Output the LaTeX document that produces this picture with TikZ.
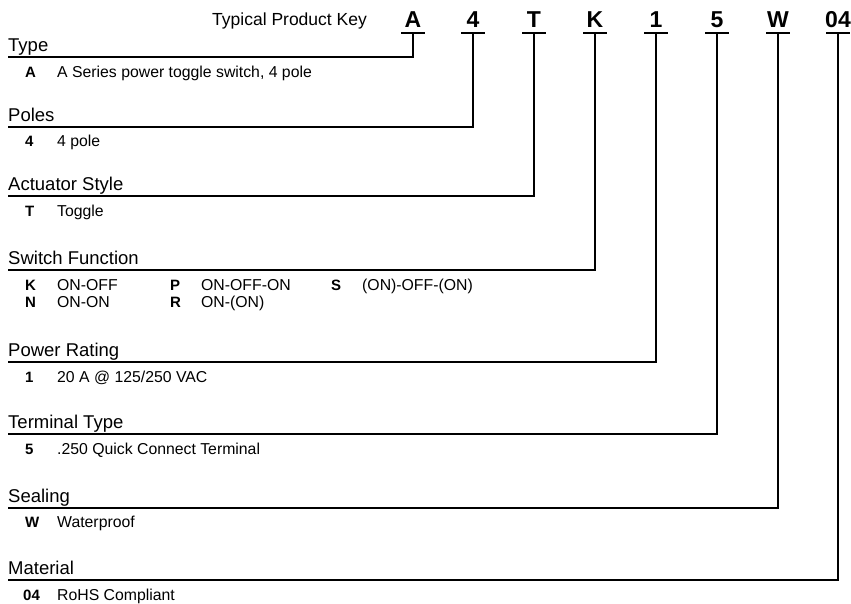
\documentclass[tikz,border=0pt]{standalone}
\usepackage{fontspec}
\setmainfont{Liberation Sans}
\begin{document}
\begin{tikzpicture}[x=1pt,y=-1pt,
  keyl/.style={font=\fontsize{23}{25}\selectfont\bfseries, anchor=base, inner sep=0pt},
  ttl/.style={font=\fontsize{18.5}{20}\selectfont, anchor=base west, inner sep=0pt},
  code/.style={font=\fontsize{15}{17}\selectfont\bfseries, anchor=base west, inner sep=0pt},
  desc/.style={font=\fontsize{15.8}{17}\selectfont, anchor=base west, inner sep=0pt},
  ln/.style={line width=1.2pt}]
\useasboundingbox (0,0) rectangle (851,603);
\node[ttl, font=\fontsize{17.5}{19}\selectfont] (tpk) at (212,25) {Typical Product Key};
% key letters
\foreach \n/\t/\x in {kA/A/413, k4/4/473, kT/T/534, kK/K/595, k1/1/656, k5/5/717, kW/W/778, k04/04/838}{
  \node[keyl] (\n) at (\x,27) {\t};
  \coordinate (u\n) at (\x,33);
  \draw[ln] ([xshift=-12pt]u\n) -- ([xshift=12pt]u\n);
}
% categories
\foreach \n/\t/\y in {kA/Type/57, k4/Poles/127, kT/Actuator Style/196, kK/Switch Function/270, k1/Power Rating/362, k5/Terminal Type/434, kW/Sealing/508, k04/Material/580}{
  \node[ttl] (t\n) at (8,\y-6) {\t};
  \coordinate (l\n) at (8,\y);
  \draw[ln] (l\n) -| (u\n);
}
% items
\node[code] (cA) at (25,77) {A}; \node[desc] (dA) at (57,77) {A Series power toggle switch, 4 pole};
\node[code] (c4) at (25,146) {4}; \node[desc] (d4) at (57,146) {4 pole};
\node[code] (cT) at (25,216) {T}; \node[desc] (dT) at (57,216) {Toggle};
\node[code] (cK) at (25,290) {K}; \node[desc] (dK) at (57,290) {ON-OFF};
\node[code] (cN) at (25,307) {N}; \node[desc] (dN) at (57,307) {ON-ON};
\node[code] (cP) at (170,290) {P}; \node[desc] (dP) at (201,290) {ON-OFF-ON};
\node[code] (cR) at (170,307) {R}; \node[desc] (dR) at (201,307) {ON-(ON)};
\node[code] (cS) at (331,290) {S}; \node[desc] (dS) at (362,290) {(ON)-OFF-(ON)};
\node[code] (c1) at (25,382) {1}; \node[desc] (d1) at (57,382) {20 A @ 125/250 VAC};
\node[code] (c5) at (25,454) {5}; \node[desc] (d5) at (57,454) {.250 Quick Connect Terminal};
\node[code] (cW) at (25,527) {W}; \node[desc] (dW) at (57,527) {Waterproof};
\node[code] (c04) at (23,600) {04}; \node[desc] (d04) at (57,600) {RoHS Compliant};
\end{tikzpicture}
\end{document}
